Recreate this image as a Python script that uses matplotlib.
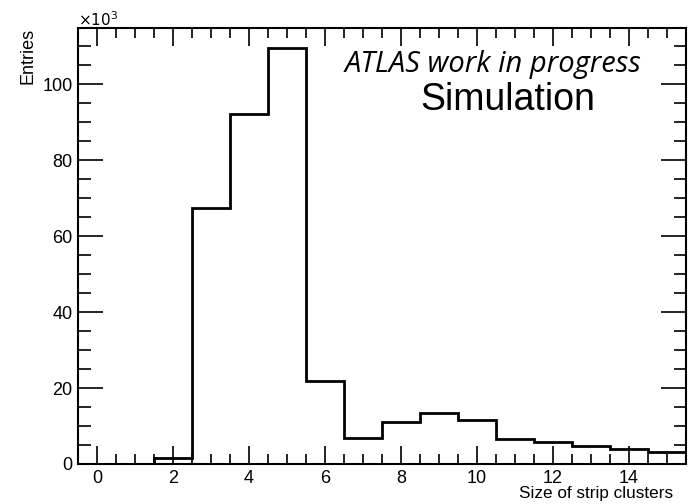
import numpy as np
import matplotlib
matplotlib.use("Agg")
import matplotlib.pyplot as plt
from matplotlib.ticker import MultipleLocator

# cluster size bins (centres) and entries in units of 10^3
cluster_size = [0, 1, 2, 3, 4, 5, 6, 7, 8, 9, 10, 11, 12, 13, 14, 15]
entries_k = [0.0, 0.0, 1.7, 67.4, 92.1, 109.5, 21.8, 6.8, 11.1, 13.4,
             11.6, 6.7, 5.7, 4.7, 3.9, 3.1]

edges = np.append(np.array(cluster_size) - 0.5, cluster_size[-1] + 0.5)

plt.rcParams["font.family"] = ["Liberation Sans", "DejaVu Sans"]

fig = plt.figure(figsize=(6.88, 5.04), dpi=100)
ax = fig.add_axes([0.1134, 0.0794, 0.8836, 0.8646])

ax.stairs(entries_k, edges, color="black", lw=2.0, baseline=0)

ax.set_xlim(-0.5, 15.5)
ax.set_ylim(0, 114.7)
ax.xaxis.set_major_locator(MultipleLocator(2))
ax.xaxis.set_minor_locator(MultipleLocator(0.5))
ax.yaxis.set_major_locator(MultipleLocator(20))
ax.yaxis.set_minor_locator(MultipleLocator(5))
ax.tick_params(which="both", direction="in", top=True, right=True,
               labelsize=13, width=1.2, pad=4)
ax.tick_params(which="major", axis="y", length=18)
ax.tick_params(which="minor", axis="y", length=9)
ax.tick_params(which="major", axis="x", length=13)
ax.tick_params(which="minor", axis="x", length=7)
for s in ax.spines.values():
    s.set_linewidth(1.5)

# axis titles placed ROOT-style
fig.text(0.978, 0.006, "Size of strip clusters", ha="right", va="bottom", fontsize=12.3)
fig.text(0.04, 0.944, "Entries", rotation=90, ha="center", va="top", fontsize=13)
fig.text(0.113, 0.948, r"$\times10^3$", ha="left", va="baseline", fontsize=11)

ax.text(0.927, 0.899, "ATLAS work in progress", transform=ax.transAxes,
        ha="right", va="baseline", fontsize=21, style="italic",
        family="Open Sans")
ax.text(0.850, 0.812, "Simulation", transform=ax.transAxes,
        ha="right", va="baseline", fontsize=27)

fig.savefig("out.png", dpi=100)
